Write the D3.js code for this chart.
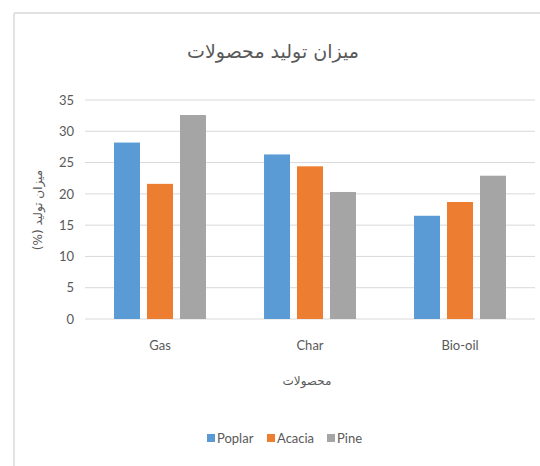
<!DOCTYPE html>
<html>
<head>
<meta charset="utf-8">
<script src="https://cdn.jsdelivr.net/npm/d3@7"></script>
<style>
    body { margin: 0; background: #fff; }
    svg { display: block; font-family: Lato, "Open Sans", sans-serif; }
</style>
</head>
<body>
<svg id="chart" width="540" height="466"></svg>
<script>
// Chart data.
const categories = ["Gas", "Char", "Bio-oil"];
const seriesNames = ["Poplar", "Acacia", "Pine"];
const poplar = [28.2, 26.3, 16.5];
const acacia = [21.6, 24.4, 18.7];
const pine = [32.6, 20.3, 22.9];
const yTicks = [0, 5, 10, 15, 20, 25, 30, 35];

const colors = ["#5B9BD5", "#ED7D31", "#A5A5A5"];
const values = [poplar, acacia, pine];

const svg = d3.select("#chart");

// Outer frame (only top and left visible in the picture).
svg.append("line").attr("x1", 14).attr("x2", 540).attr("y1", 13).attr("y2", 13)
    .attr("stroke", "#d9d9d9").attr("stroke-width", 1.5);
svg.append("line").attr("x1", 14).attr("x2", 14).attr("y1", 13).attr("y2", 466)
    .attr("stroke", "#d9d9d9").attr("stroke-width", 1.5);

// Scales.
const x0 = d3.scaleBand().domain(categories).range([85, 535]).padding(0);
const x1 = d3.scaleBand().domain(seriesNames).range([0, x0.bandwidth()])
    .paddingInner(0.212).paddingOuter(0.88);
const y = d3.scaleLinear().domain([0, 35]).range([319, 100]);

// Gridlines.
svg.append("g").selectAll("line").data(yTicks).join("line")
    .attr("x1", 85).attr("x2", 535)
    .attr("y1", d => y(d)).attr("y2", d => y(d))
    .attr("stroke", "#d9d9d9").attr("stroke-width", 1);

// Y axis labels.
const yAxis = svg.append("g").attr("transform", "translate(78,0)")
    .call(d3.axisLeft(y).tickValues(yTicks).tickSize(0).tickPadding(4));
yAxis.select(".domain").remove();
yAxis.selectAll("text").attr("font-size", 13).attr("fill", "#595959")
    .attr("font-family", "Lato, sans-serif");

// Bars.
const rows = [];
categories.forEach((c, i) => seriesNames.forEach((s, j) =>
    rows.push({ cat: c, series: s, value: values[j][i], color: colors[j] })));

svg.append("g").selectAll("rect").data(rows).join("rect")
    .attr("x", d => x0(d.cat) + x1(d.series))
    .attr("y", d => y(d.value))
    .attr("width", x1.bandwidth())
    .attr("height", d => y(0) - y(d.value))
    .attr("fill", d => d.color);

// X axis labels.
const xAxis = svg.append("g").attr("transform", `translate(0,${y(0)})`)
    .call(d3.axisBottom(x0).tickSize(0).tickPadding(22));
xAxis.select(".domain").remove();
xAxis.selectAll("text").attr("font-size", 13).attr("fill", "#595959")
    .attr("font-family", "Lato, sans-serif");

// Title.
svg.append("text").attr("x", 273).attr("y", 58)
    .attr("text-anchor", "middle").attr("font-size", 19).attr("fill", "#595959")
    .attr("font-family", "'DejaVu Sans', sans-serif")
    .attr("direction", "rtl").attr("unicode-bidi", "embed")
    .text("میزان تولید محصولات");

// Axis titles.
svg.append("text").attr("x", 307).attr("y", 385)
    .attr("text-anchor", "middle").attr("font-size", 12).attr("fill", "#595959")
    .attr("font-family", "'DejaVu Sans', sans-serif")
    .text("محصولات");

svg.append("text")
    .attr("transform", "translate(42,210) rotate(-90)")
    .attr("text-anchor", "middle").attr("font-size", 12).attr("fill", "#595959")
    .attr("font-family", "'DejaVu Sans', sans-serif")
    .attr("direction", "rtl").attr("unicode-bidi", "embed")
    .text("میزان تولید (%)");

// Legend.
const legendX = [207, 267, 327];
const legend = svg.append("g").selectAll("g").data(seriesNames).join("g")
    .attr("transform", (d, i) => `translate(${legendX[i]},438)`);
legend.append("rect").attr("x", 0).attr("y", -4).attr("width", 8).attr("height", 8)
    .attr("fill", (d, i) => colors[i]);
legend.append("text").attr("x", 10).attr("y", 5)
    .attr("font-size", 13).attr("fill", "#595959")
    .attr("font-family", "Lato, sans-serif")
    .text(d => d);
</script>
</body>
</html>
